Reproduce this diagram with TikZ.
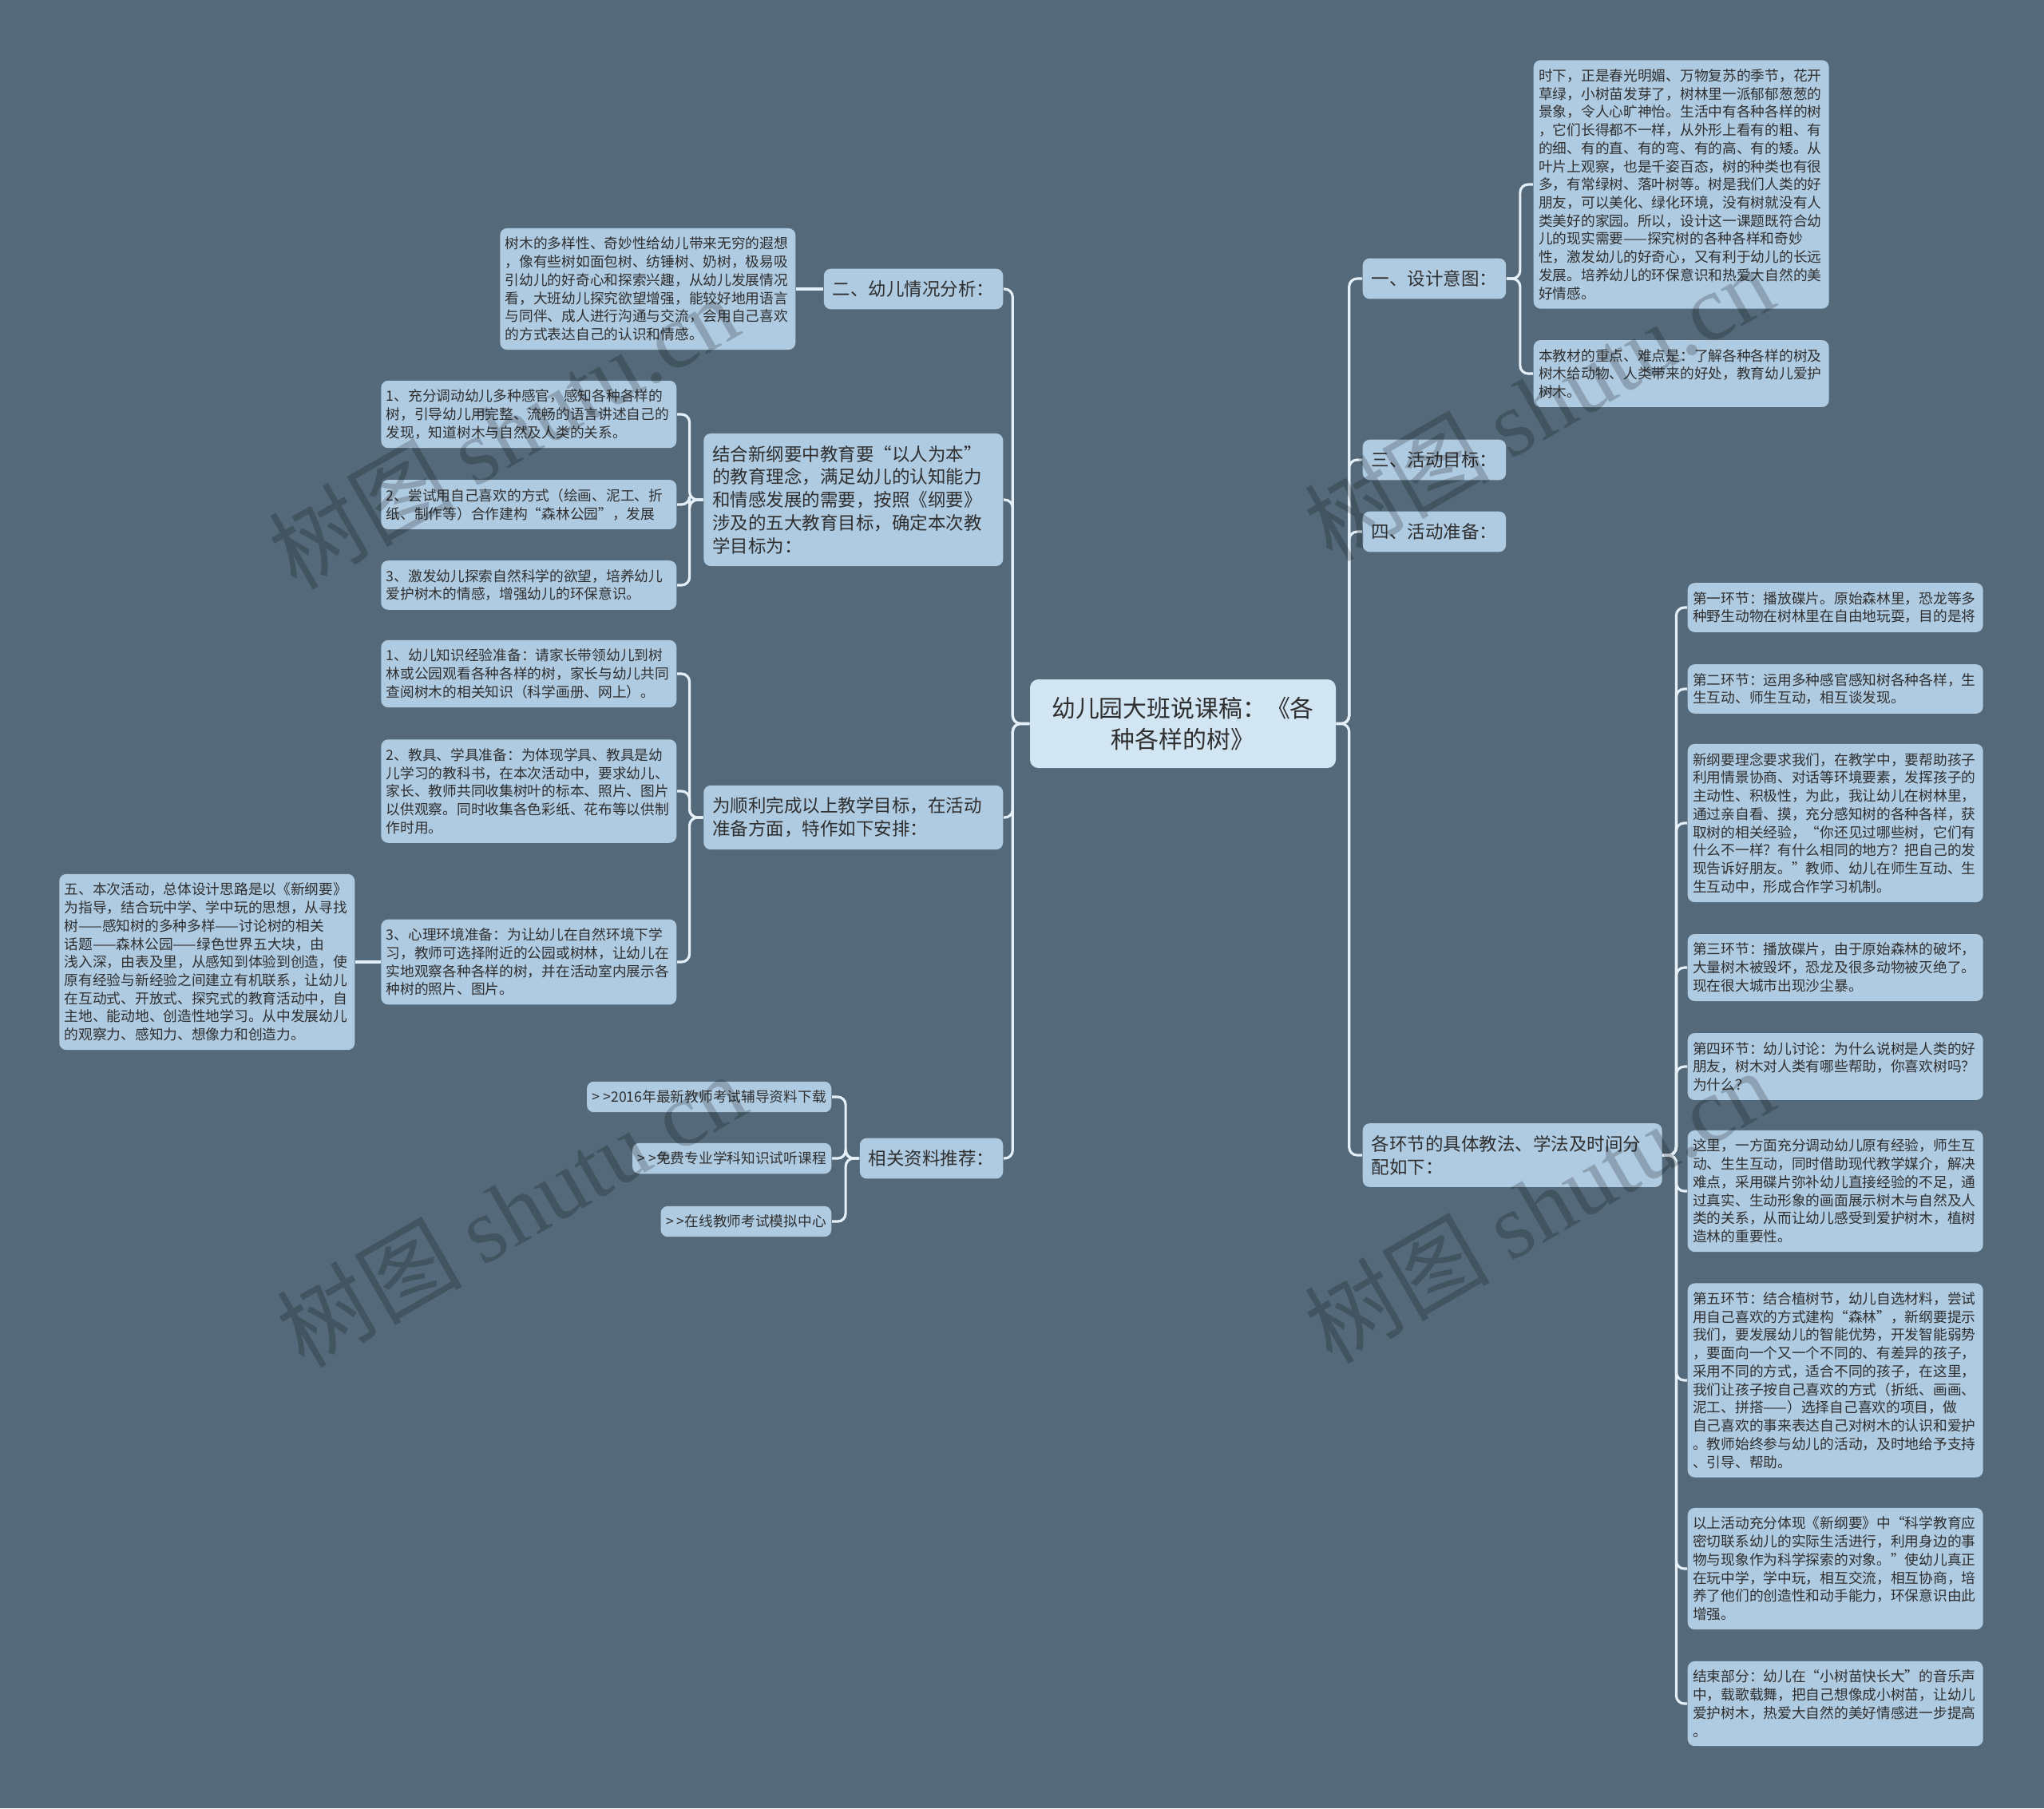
\documentclass[tikz,border=0pt]{standalone}
\usepackage{fontspec}
\setmainfont{Noto Sans CJK SC}
\newfontfamily\wmlatin{Liberation Serif}
\usetikzlibrary{positioning}
\definecolor{bgc}{HTML}{546A7A}
\definecolor{boxc}{HTML}{AFCBE2}
\definecolor{rootc}{HTML}{D2E5F3}
\definecolor{linec}{HTML}{E4EFF7}
\definecolor{txtc}{HTML}{2F2F2F}

\begin{document}
\begin{tikzpicture}[
  rootbox/.style={rectangle,fill=rootc,rounded corners=3pt,minimum width=3.83cm,minimum height=1.11cm,align=center,text=txtc,font=\fontsize{8.5pt}{11.1pt}\selectfont},
  topic/.style={rectangle,fill=boxc,rounded corners=2.5pt,inner xsep=0.11cm,inner ysep=0.15cm,align=left,text=txtc,font=\fontsize{6.4pt}{8.2pt}\selectfont},
  leafbase/.style={rectangle,fill=boxc,rounded corners=2.5pt,inner xsep=0.065cm,inner ysep=0.11cm,align=left,text=txtc,font=\fontsize{5.04pt}{6.47pt}\selectfont},
  leaf/.style={leafbase,text width=3.57cm},
  link/.style={draw=linec,line width=0.9pt,rounded corners=0.1cm},
  wmark/.style={text=black,opacity=0.2,rotate=30,font=\fontsize{33pt}{33pt}\selectfont}
]
  \useasboundingbox (0,0) rectangle (25.6,-22.65);
  \fill[bgc] (0,0) rectangle (25.6,-22.65);

  \node[rootbox](root) at (14.815,-9.065) {幼儿园大班说课稿：《各\\种各样的树》};

  \node[topic,anchor=west](yi)  at (17.06,-3.49) {一、设计意图：};
  \node[topic,anchor=west](san) at (17.06,-5.76) {三、活动目标：};
  \node[topic,anchor=west](si)  at (17.06,-6.66) {四、活动准备：};
  \node[topic,anchor=west,text width=3.53cm](huan) at (17.06,-14.47) {各环节的具体教法、学法及时间分\\配如下：};

  \node[leaf,anchor=west](yiA) at (19.20,-2.31) {时下，正是春光明媚、万物复苏的季节，花开\\草绿，小树苗发芽了，树林里一派郁郁葱葱的\\景象，令人心旷神怡。生活中有各种各样的树\\，它们长得都不一样，从外形上看有的粗、有\\的细、有的直、有的弯、有的高、有的矮。从\\叶片上观察，也是千姿百态，树的种类也有很\\多，有常绿树、落叶树等。树是我们人类的好\\朋友，可以美化、绿化环境，没有树就没有人\\类美好的家园。所以，设计这一课题既符合幼\\儿的现实需要——探究树的各种各样和奇妙\\性，激发幼儿的好奇心，又有利于幼儿的长远\\发展。培养幼儿的环保意识和热爱大自然的美\\好情感。};
  \node[leaf,anchor=west](yiB) at (19.20,-4.68) {本教材的重点、难点是：了解各种各样的树及\\树木给动物、人类带来的好处，教育幼儿爱护\\树木。};

  \node[leaf,anchor=west](h1) at (21.13,-7.61)  {第一环节：播放碟片。原始森林里，恐龙等多\\种野生动物在树林里在自由地玩耍，目的是将};
  \node[leaf,anchor=west](h2) at (21.13,-8.63)  {第二环节：运用多种感官感知树各种各样，生\\生互动、师生互动，相互谈发现。};
  \node[leaf,anchor=west](h3) at (21.13,-10.31) {新纲要理念要求我们，在教学中，要帮助孩子\\利用情景协商、对话等环境要素，发挥孩子的\\主动性、积极性，为此，我让幼儿在树林里，\\通过亲自看、摸，充分感知树的各种各样，获\\取树的相关经验，“你还见过哪些树，它们有\\什么不一样？有什么相同的地方？把自己的发\\现告诉好朋友。”教师、幼儿在师生互动、生\\生互动中，形成合作学习机制。};
  \node[leaf,anchor=west](h4) at (21.13,-12.12) {第三环节：播放碟片，由于原始森林的破坏，\\大量树木被毁坏，恐龙及很多动物被灭绝了。\\现在很大城市出现沙尘暴。};
  \node[leaf,anchor=west](h5) at (21.13,-13.36) {第四环节：幼儿讨论：为什么说树是人类的好\\朋友，树木对人类有哪些帮助，你喜欢树吗？\\为什么？};
  \node[leaf,anchor=west](h6) at (21.13,-14.92) {这里，一方面充分调动幼儿原有经验，师生互\\动、生生互动，同时借助现代教学媒介，解决\\难点，采用碟片弥补幼儿直接经验的不足，通\\过真实、生动形象的画面展示树木与自然及人\\类的关系，从而让幼儿感受到爱护树木，植树\\造林的重要性。};
  \node[leaf,anchor=west](h7) at (21.13,-17.29) {第五环节：结合植树节，幼儿自选材料，尝试\\用自己喜欢的方式建构“森林”，新纲要提示\\我们，要发展幼儿的智能优势，开发智能弱势\\，要面向一个又一个不同的、有差异的孩子，\\采用不同的方式，适合不同的孩子，在这里，\\我们让孩子按自己喜欢的方式（折纸、画画、\\泥工、拼搭——）选择自己喜欢的项目，做\\自己喜欢的事来表达自己对树木的认识和爱护\\。教师始终参与幼儿的活动，及时地给予支持\\、引导、帮助。};
  \node[leaf,anchor=west](h8) at (21.13,-19.65) {以上活动充分体现《新纲要》中“科学教育应\\密切联系幼儿的实际生活进行，利用身边的事\\物与现象作为科学探索的对象。”使幼儿真正\\在玩中学，学中玩，相互交流，相互协商，培\\养了他们的创造性和动手能力，环保意识由此\\增强。};
  \node[leaf,anchor=west](h9) at (21.13,-21.34) {结束部分：幼儿在“小树苗快长大”的音乐声\\中，载歌载舞，把自己想像成小树苗，让幼儿\\爱护树木，热爱大自然的美好情感进一步提高\\。};

  \node[topic,anchor=east](er) at (12.57,-3.62) {二、幼儿情况分析：};
  \node[leaf,anchor=east](erA) at (9.97,-3.62) {树木的多样性、奇妙性给幼儿带来无穷的遐想\\，像有些树如面包树、纺锤树、奶树，极易吸\\引幼儿的好奇心和探索兴趣，从幼儿发展情况\\看，大班幼儿探究欲望增强，能较好地用语言\\与同伴、成人进行沟通与交流，会用自己喜欢\\的方式表达自己的认识和情感。};

  \node[topic,anchor=east,text width=3.53cm](mb) at (12.57,-6.26) {结合新纲要中教育要“以人为本”\\的教育理念，满足幼儿的认知能力\\和情感发展的需要，按照《纲要》\\涉及的五大教育目标，确定本次教\\学目标为：};
  \node[leaf,anchor=east](mb1) at (8.48,-5.19) {1、充分调动幼儿多种感官，感知各种各样的\\树，引导幼儿用完整、流畅的语言讲述自己的\\发现，知道树木与自然及人类的关系。};
  \node[leaf,anchor=east](mb2) at (8.48,-6.32) {2、尝试用自己喜欢的方式（绘画、泥工、折\\纸、制作等）合作建构“森林公园”，发展};
  \node[leaf,anchor=east](mb3) at (8.48,-7.33) {3、激发幼儿探索自然科学的欲望，培养幼儿\\爱护树木的情感，增强幼儿的环保意识。};

  \node[topic,anchor=east,text width=3.53cm](zb) at (12.57,-10.24) {为顺利完成以上教学目标，在活动\\准备方面，特作如下安排：};
  \node[leaf,anchor=east](zb1) at (8.48,-8.44)  {1、幼儿知识经验准备：请家长带领幼儿到树\\林或公园观看各种各样的树，家长与幼儿共同\\查阅树木的相关知识（科学画册、网上）。};
  \node[leaf,anchor=east](zb2) at (8.48,-9.91)  {2、教具、学具准备：为体现学具、教具是幼\\儿学习的教科书，在本次活动中，要求幼儿、\\家长、教师共同收集树叶的标本、照片、图片\\以供观察。同时收集各色彩纸、花布等以供制\\作时用。};
  \node[leaf,anchor=east](zb3) at (8.48,-12.05) {3、心理环境准备：为让幼儿在自然环境下学\\习，教师可选择附近的公园或树林，让幼儿在\\实地观察各种各样的树，并在活动室内展示各\\种树的照片、图片。};
  \node[leaf,anchor=east](wu) at (4.45,-12.05) {五、本次活动，总体设计思路是以《新纲要》\\为指导，结合玩中学、学中玩的思想，从寻找\\树——感知树的多种多样——讨论树的相关\\话题——森林公园——绿色世界五大块，由\\浅入深，由表及里，从感知到体验到创造，使\\原有经验与新经验之间建立有机联系，让幼儿\\在互动式、开放式、探究式的教育活动中，自\\主地、能动地、创造性地学习。从中发展幼儿\\的观察力、感知力、想像力和创造力。};

  \node[topic,anchor=east](zl) at (12.57,-14.51) {相关资料推荐：};
  \node[leafbase,anchor=east](zl1) at (10.42,-13.74) {> >2016年最新教师考试辅导资料下载};
  \node[leafbase,anchor=east](zl2) at (10.42,-14.51) {> >免费专业学科知识试听课程};
  \node[leafbase,anchor=east](zl3) at (10.42,-15.30) {> >在线教师考试模拟中心};

  \draw[link](root.east) -- ++(0.16,0) |- (yi.west);
  \draw[link](root.east) -- ++(0.16,0) |- (san.west);
  \draw[link](root.east) -- ++(0.16,0) |- (si.west);
  \draw[link](root.east) -- ++(0.16,0) |- (huan.west);
  \draw[link](yi.east) -- ++(0.17,0) |- (yiA.west);
  \draw[link](yi.east) -- ++(0.17,0) |- (yiB.west);
  \foreach \n in {h1,h2,h3,h4,h5,h6,h7,h8,h9}
    \draw[link](huan.east) -- ++(0.17,0) |- (\n.west);

  \draw[link](root.west) -- ++(-0.21,0) |- (er.east);
  \draw[link](root.west) -- ++(-0.21,0) |- (mb.east);
  \draw[link](root.west) -- ++(-0.21,0) |- (zb.east);
  \draw[link](root.west) -- ++(-0.21,0) |- (zl.east);
  \draw[link](er.west) -- (erA.east);
  \foreach \n in {mb1,mb2,mb3}
    \draw[link](mb.west) -- ++(-0.17,0) |- (\n.east);
  \foreach \n in {zb1,zb2,zb3}
    \draw[link](zb.west) -- ++(-0.17,0) |- (\n.east);
  \draw[link](zb3.west) -- (wu.east);
  \foreach \n in {zl1,zl2,zl3}
    \draw[link](zl.west) -- ++(-0.17,0) |- (\n.east);

  \node[wmark](wm1) at (6.30,-5.40)   {树图 {\wmlatin shutu.cn}};
  \node[wmark](wm2) at (19.27,-5.05)  {树图 {\wmlatin shutu.cn}};
  \node[wmark](wm3) at (6.40,-15.15)  {树图 {\wmlatin shutu.cn}};
  \node[wmark](wm4) at (19.27,-15.10) {树图 {\wmlatin shutu.cn}};
\end{tikzpicture}
\end{document}
